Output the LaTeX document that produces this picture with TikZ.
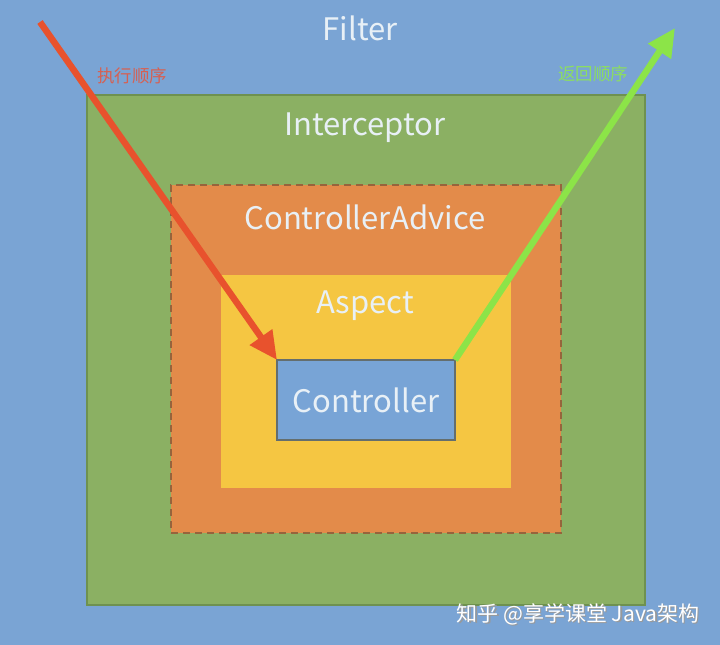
\documentclass[tikz,border=0pt]{standalone}
\usepackage{fontspec}
\setmainfont{Noto Sans CJK SC}
\usetikzlibrary{arrows.meta}
\definecolor{bgblue}{RGB}{122,164,212}
\definecolor{igreen}{RGB}{139,176,99}
\definecolor{igreenb}{RGB}{110,145,80}
\definecolor{aorange}{RGB}{227,139,74}
\definecolor{aorangeb}{RGB}{150,100,60}
\definecolor{ayellow}{RGB}{245,198,66}
\definecolor{cblue}{RGB}{120,164,214}
\definecolor{cblueb}{RGB}{100,110,110}
\definecolor{lbl}{RGB}{232,240,246}
\definecolor{redarrow}{RGB}{232,82,45}
\definecolor{greenarrow}{RGB}{140,228,72}
\definecolor{redtext}{RGB}{214,96,82}
\definecolor{greentext}{RGB}{140,222,96}
\tikzset{
  layer/.style={anchor=north west, inner sep=0pt, outer sep=0pt},
  title/.style={text=lbl, font=\fontsize{31}{33}\selectfont, inner sep=0pt},
  arr/.style={line width=6.5pt, -{Triangle[length=28pt,width=26pt]}},
  note/.style={font=\fontsize{17.5}{19}\selectfont, inner sep=0pt},
  wmark/.style={font=\fontsize{21}{23}\selectfont, inner sep=0pt},
}
\begin{document}
\begin{tikzpicture}[x=1pt,y=-1pt]
\useasboundingbox (0,0) rectangle (720,645);
\fill[bgblue] (0,0) rectangle (720,645);
\node[layer, fill=igreen, draw=igreenb, line width=1.5pt, minimum width=558pt, minimum height=510pt] (inter) at (87,95) {};
\node[layer, fill=aorange, draw=aorangeb, dash pattern=on 7pt off 5pt, line width=2pt, minimum width=390pt, minimum height=348pt] (advice) at (171,185) {};
\node[layer, fill=ayellow, minimum width=290pt, minimum height=213pt] (aspect) at (221,275) {};
\node[layer, fill=cblue, draw=cblueb, line width=1.2pt, minimum width=178pt, minimum height=80pt] (ctrl) at (277,360) {};
\node[title] (tfilter) at (360,28) {Filter};
\node[title] (tinter) at (365,128) {Interceptor};
\node[title] (tadvice) at (365,217) {ControllerAdvice};
\node[title] (taspect) at (365,306) {Aspect};
\node[title] at (ctrl.center) {Controller};
\coordinate (rstart) at (40,22);
\coordinate (gend) at (675,28);
\draw[arr, redarrow] (rstart) -- (ctrl.north west);
\draw[arr, greenarrow] (ctrl.north east) -- (gend);
\node[note, text=redtext] (lexec) at (132,76) {执行顺序};
\node[note, text=greentext] (lret) at (593,74) {返回顺序};
\node[wmark, text=black!40] at (579.5,615.5) {知乎 @享学课堂 Java架构};
\node[wmark, text=white] (wm) at (578,614) {知乎 @享学课堂 Java架构};
\end{tikzpicture}
\end{document}
